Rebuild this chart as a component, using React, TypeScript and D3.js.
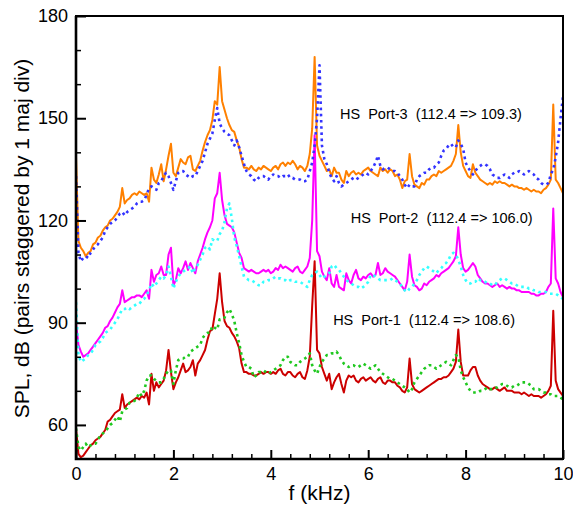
import React, { useEffect, useRef } from 'react';
import * as d3 from 'd3';

// spectra sampled every 0.05 kHz, 0 .. 10 kHz
const FREQ_STEP = 0.05;

const port3Solid = [
  139, 114, 112, 111, 109.5, 110.5, 111, 113, 113.5, 115, 115.5, 117, 118, 118.5, 120, 120.5, 121.5, 122.5, 124, 129.5,
  125, 126, 126.5, 127.5, 128, 127.5, 128.5, 128, 127.5, 128, 125.5, 135.5, 132, 131, 133.5, 136.5, 131.5, 135, 139, 142.5,
  134, 133, 135.5, 138, 137, 136.5, 138.5, 139, 135, 134.5, 136, 137.5, 140.5, 143, 145, 146.5, 149.5, 155, 154, 165,
  155, 152.5, 150, 148, 146.5, 146, 143.5, 141.5, 138, 135.5, 135.5, 135, 136, 135, 134.5, 135.5, 135, 136, 135.5, 135,
  134.5, 135.5, 136, 135, 136.5, 137, 136, 137, 136.5, 137.5, 136.5, 135, 136, 135.5, 134.5, 136, 139.5, 147, 168, 142,
  139, 137.5, 136, 134.5, 135, 133, 135.5, 134, 134, 132, 131, 134.5, 133, 134, 134.5, 133.5, 134, 133.5, 134.5, 135,
  135.5, 134.5, 134, 133.5, 133, 135.5, 134.5, 135, 134, 135, 134.5, 133, 133.5, 132, 129.5, 131.5, 132, 139.5, 133, 130.5,
  130, 129.5, 131, 130.5, 132, 132, 133, 133.5, 133, 134.5, 134, 134.5, 135, 135.5, 136, 137.5, 139.5, 148, 140, 136,
  134.5, 133, 132.5, 136.5, 134, 133, 132, 131.5, 131, 130.5, 131, 130.5, 131.5, 131, 131.5, 131, 131, 130.5, 130, 130.5,
  130, 130, 129.5, 129.5, 129, 129.5, 129, 128.5, 129, 128.5, 128.5, 128, 129, 129.5, 130.5, 132, 154, 132, 131, 129.5,
  128,
];

const port3Dotted = [
  133, 110.5, 108, 109, 109.5, 109, 110.5, 111.5, 112.5, 113, 114, 115, 117, 118, 119, 119.5, 120, 121, 122, 122.5,
  121.5, 122.5, 123, 123.5, 124, 125, 125.5, 125.5, 126, 127.5, 129.5, 130, 129.5, 129, 131, 131.5, 133, 134, 133, 131,
  129, 131.5, 134, 134.5, 134.5, 133.5, 133, 132.5, 133, 133, 134.5, 136, 137.5, 140, 142.5, 144, 145.5, 149.5, 153, 148.5,
  147, 146, 145.5, 145, 143.5, 142, 143.5, 141.5, 139, 136.5, 134.5, 133.5, 133, 132, 131.5, 132.5, 133, 133, 132.5, 132,
  133, 133.5, 133, 133, 132.5, 133, 133, 133.5, 132.5, 132.5, 132, 132, 132, 131.5, 131.5, 132, 134.5, 137, 142, 150,
  165.5, 142, 138, 136.5, 134, 132.5, 131.5, 133, 131, 130, 130.5, 131, 131.5, 132, 132.5, 132, 132.5, 133, 133.5, 134,
  133.5, 134.5, 135.5, 137, 139, 136, 135, 135.5, 135.5, 135, 134.5, 134.5, 134, 133, 132, 130.5, 129.5, 130.5, 130, 130,
  132, 133, 133.5, 134, 134, 135, 135.5, 135.5, 136.5, 137, 139, 140.5, 141, 142, 142.5, 141.5, 141.5, 143.5, 142.5, 141,
  137, 135.5, 134.5, 133.5, 134.5, 135.5, 136, 136.5, 136.5, 136, 135, 133.5, 133, 132.5, 132.5, 133, 133.5, 133, 132.5, 133.5,
  134, 134, 134.5, 134, 133.5, 134, 134.5, 134, 133.5, 132.5, 132, 131, 130.5, 130.5, 131, 133.5, 135, 138.5, 143, 150,
  156.5,
];

const port2Solid = [
  90, 83.5, 81.5, 80, 80.5, 81, 82, 83, 84, 85, 86, 87, 88.5, 89, 90.5, 91.5, 93, 94.5, 95.5, 99.5,
  96, 96.5, 97, 97.5, 97.5, 98, 98, 97.5, 98.5, 99.5, 97, 105.5, 102, 104, 104.5, 106.5, 104, 104, 110, 112,
  101, 102.5, 106, 104.5, 106, 108, 105.5, 107.5, 106, 104.5, 108, 110, 112, 114.5, 116.5, 118, 120, 126.5, 128, 134,
  126, 121.5, 119, 118.5, 118, 116.5, 113.5, 110.5, 109, 106, 105.5, 105, 105.5, 105, 104.5, 104.5, 105, 105.5, 105, 105.5,
  104.5, 105, 106, 105.5, 107, 106, 106.5, 106, 105.5, 105, 106, 106.5, 105, 104.5, 105.5, 106.5, 109, 120, 145, 111,
  109.5, 105, 103.5, 102.5, 106, 101.5, 100.5, 104, 100.5, 100, 99.5, 104.5, 102.5, 101.5, 104, 105.5, 103, 102.5, 103.5, 103,
  104, 104.5, 103.5, 104, 107.5, 104, 104.5, 106, 105, 104.5, 104, 103.5, 102.5, 101.5, 100.5, 99.5, 102, 110, 103.5, 101,
  100.5, 99.5, 100, 101.5, 101, 102, 102.5, 103, 104, 103.5, 104.5, 105, 105.5, 106, 107, 108, 109.5, 118, 110, 106,
  105, 105.5, 106.5, 107.5, 106.5, 104, 103, 102, 101.5, 101.5, 101, 100.5, 101, 101.5, 100.5, 101, 100.5, 100, 100.5, 100,
  100, 99.5, 99.5, 99, 99, 99, 99, 98.5, 98.5, 98, 98, 98.5, 98.5, 99, 100.5, 101.5, 123.5, 103, 101.5, 99,
  97.5,
];

const port2Dotted = [
  96, 80.5, 78.5, 79, 79.5, 80.5, 81, 82, 83.5, 84, 84.5, 85.5, 87, 87.5, 88, 89, 90, 91, 92.5, 94,
  94, 94.5, 94, 94.5, 95, 95.5, 95.5, 96.5, 97, 98, 99.5, 101.5, 100.5, 101.5, 102.5, 103.5, 103, 104, 106.5, 103.5,
  100, 102, 103.5, 104.5, 105, 105.5, 106, 106.5, 104.5, 106, 107, 108.5, 110, 112, 112.5, 111.5, 114.5, 114, 114, 116,
  117, 119.5, 123.5, 125, 120.5, 115, 112.5, 109.5, 106.5, 103.5, 103, 102.5, 102.5, 102, 101.5, 101, 101, 102, 102, 102.5,
  102.5, 103, 103.5, 103, 103, 102.5, 102.5, 102, 102.5, 102.5, 102, 102, 102, 101.5, 101, 100.5, 102.5, 104, 104.5, 105,
  104, 103, 103.5, 104, 104.5, 106.5, 107, 106, 105.5, 104.5, 103.5, 102.5, 102, 101.5, 101, 100.5, 100.5, 100, 100.5, 101,
  102, 104, 104, 103.5, 103, 102.5, 102.5, 102.5, 102.5, 102.5, 103, 102.5, 102, 101.5, 100.5, 99.5, 99, 100, 100.5, 101.5,
  102.5, 104, 105, 106, 106.5, 106, 105.5, 105, 104.5, 105.5, 106, 107, 107.5, 108.5, 110, 110.5, 110, 108.5, 106.5, 104,
  102.5, 101.5, 101.5, 102, 102, 103, 102.5, 102.5, 102, 101.5, 101.5, 101, 101, 102, 102.5, 103, 103, 102.5, 102, 101.5,
  101.5, 101, 100.5, 100.5, 100.5, 100.5, 100, 100, 99.5, 99.5, 99, 99, 99, 99, 98.5, 98.5, 98.5, 98.5, 98, 97.5,
  97,
];

const port1Solid = [
  59, 51.5, 50.5, 51, 52, 53, 54, 54.5, 55.5, 56, 56.5, 57.5, 58.5, 61, 61.5, 62.5, 63.5, 64, 64.5, 69,
  65, 66, 66.5, 67, 67.5, 68, 67.5, 68.5, 68, 69.5, 66, 75, 70, 72.5, 71, 72, 73, 76, 82, 75.5,
  70.5, 72.5, 74, 76, 78, 75.5, 76, 77, 79, 74.5, 78, 79, 80.5, 82, 85, 87.5, 88, 92.5, 97, 104.5,
  96, 90.5, 89, 88.5, 87, 86, 84.5, 82.5, 78, 75.5, 75.5, 75, 75, 74.5, 74.5, 75, 75.5, 75, 75.5, 75.5,
  75, 75.5, 75, 76, 76.5, 75, 74.5, 75.5, 75.5, 74.5, 74, 75, 75.5, 74, 73.5, 76, 80, 95, 108, 82,
  81, 77, 75, 73, 75, 70.5, 72.5, 74, 75, 72, 69.5, 73, 74.5, 74, 74.5, 73, 72.5, 73.5, 74, 73,
  73.5, 74, 73, 72.5, 73.5, 74, 72.5, 72, 73, 73, 72.5, 72.5, 71.5, 71, 70, 69.5, 71, 79.5, 72, 70.5,
  70, 69.5, 70, 70.5, 71, 71.5, 72, 72.5, 73, 73.5, 73.5, 74, 74, 74.5, 75.5, 76.5, 78.5, 88, 78.5, 74.5,
  74.5, 74.5, 76, 77, 77, 74.5, 73, 72, 71.5, 71, 70.5, 70.5, 71, 70.5, 70, 70.5, 71, 70, 70, 70,
  69.5, 69.5, 69.5, 69, 69.5, 69, 68.5, 69, 68.5, 68.5, 68.5, 68, 68.5, 69, 70, 71.5, 93.5, 73, 70.5, 69.5,
  68.5,
];

const port1Dotted = [
  59, 53.5, 52.5, 53.5, 54.5, 53.5, 54, 54.5, 54.5, 55.5, 57, 57.5, 58, 59, 60, 60.5, 61.5, 62.5, 61, 64,
  64.5, 65, 66.5, 67, 67, 68, 69.5, 68.5, 70, 73, 74.5, 74.5, 73.5, 73, 72.5, 72.5, 73.5, 75, 76, 76,
  72, 76, 79, 79.5, 79.5, 80, 80, 81.5, 82, 82.5, 83, 83.5, 85.5, 86.5, 87, 87, 89, 88.5, 88, 91,
  91, 91.5, 93, 94, 92.5, 90.5, 87, 84, 80.5, 78.5, 77, 77, 76.5, 74, 74.5, 75.5, 75.5, 76, 75.5, 75,
  75.5, 76, 76.5, 77, 77.5, 79, 80, 80, 78.5, 78, 77.5, 77.5, 78.5, 79, 79.5, 80, 81, 77.5, 76, 75,
  77, 78.5, 79.5, 80.5, 80.5, 81, 81, 81.5, 80.5, 79, 78, 77.5, 77, 77.5, 77.5, 77, 77, 77.5, 78, 77.5,
  77, 76.5, 77, 77.5, 76.5, 75.5, 75, 74.5, 74, 73.5, 73.5, 73, 72.5, 72, 71.5, 71, 70.5, 69.5, 70.5, 72.5,
  73.5, 74.5, 75.5, 76.5, 77, 77.5, 77.5, 77, 76.5, 77, 77.5, 78, 78.5, 78, 77.5, 79, 80.5, 80, 76, 74,
  72.5, 71, 70, 69.5, 69.5, 69.5, 70, 70, 70.5, 71, 70.5, 70.5, 71, 71, 71.5, 72, 72, 71.5, 71, 71,
  71.5, 71.5, 72, 72.5, 72.5, 72.5, 72, 71.5, 70.5, 70.5, 70.5, 70, 69.5, 69.5, 69, 69, 68.5, 68.5, 68.5, 68,
  67.5,
];

const yMajorTicks = [60, 90, 120, 150, 180];
const yMinorTicks = [70, 80, 100, 110, 130, 140, 160, 170];
const xMajorTicks = [0, 2, 4, 6, 8, 10];
const xMinorTicks = [0.4, 0.8, 1.2, 1.6, 2.4, 2.8, 3.2, 3.6, 4.4, 4.8, 5.2, 5.6, 6.4, 6.8, 7.2, 7.6, 8.4, 8.8, 9.2, 9.6];

const labels = [
  'HS  Port-3  (112.4 => 109.3)',
  'HS  Port-2  (112.4 => 106.0)',
  'HS  Port-1  (112.4 => 108.6)',
];

const FONT = '"Liberation Sans", Arial, Helvetica, sans-serif';

export default function App() {
  const ref = useRef<SVGSVGElement>(null);

  useEffect(() => {
    const width = 573;
    const height = 508;
    const margin = { top: 16, right: 10, bottom: 49, left: 76 };

    const x = d3.scaleLinear().domain([0, 10]).range([margin.left, width - margin.right]);
    const y = d3.scaleLinear().domain([50, 180]).range([height - margin.bottom, margin.top]);

    const svg = d3.select(ref.current);
    svg.selectAll('*').remove();

    svg
      .append('defs')
      .append('clipPath')
      .attr('id', 'plot-clip')
      .append('rect')
      .attr('x', x(0))
      .attr('y', y(180))
      .attr('width', x(10) - x(0))
      .attr('height', y(50) - y(180));

    const line = d3
      .line<number>()
      .x((d, i) => x(i * FREQ_STEP))
      .y((d) => y(d));

    const series = [
      { data: port1Solid, color: '#cc0000', dotted: false },
      { data: port1Dotted, color: '#1fc81f', dotted: true },
      { data: port2Solid, color: '#ff00ff', dotted: false },
      { data: port2Dotted, color: '#33ffff', dotted: true },
      { data: port3Solid, color: '#ff8000', dotted: false },
      { data: port3Dotted, color: '#3333ff', dotted: true },
    ];

    const plot = svg.append('g').attr('clip-path', 'url(#plot-clip)');
    series.forEach((s) => {
      plot
        .append('path')
        .datum(s.data)
        .attr('fill', 'none')
        .attr('stroke', s.color)
        .attr('stroke-width', s.dotted ? 2.6 : 2)
        .attr('stroke-dasharray', s.dotted ? '2.6 3.6' : null)
        .attr('stroke-linejoin', 'round')
        .attr('d', line);
    });

    // ticks point into the plot
    const yMajor = (g) =>
      g
        .attr('transform', `translate(${margin.left},0)`)
        .call(d3.axisLeft(y).tickValues(yMajorTicks).tickSizeInner(-10).tickSizeOuter(0).tickPadding(8))
        .call((g) => g.select('.domain').remove())
        .call((g) => g.selectAll('.tick line').attr('stroke-width', 2))
        .call((g) => g.selectAll('.tick text').attr('font-size', 18).attr('font-family', FONT).attr('fill', '#000'));

    const yMinor = (g) =>
      g
        .attr('transform', `translate(${margin.left},0)`)
        .call(d3.axisLeft(y).tickValues(yMinorTicks).tickSizeInner(-5).tickSizeOuter(0).tickFormat(() => ''))
        .call((g) => g.select('.domain').remove())
        .call((g) => g.selectAll('.tick line').attr('stroke-width', 1.5));

    const xMajor = (g) =>
      g
        .attr('transform', `translate(0,${height - margin.bottom})`)
        .call(d3.axisBottom(x).tickValues(xMajorTicks).tickSizeInner(-9).tickSizeOuter(0).tickPadding(8))
        .call((g) => g.select('.domain').remove())
        .call((g) => g.selectAll('.tick line').attr('stroke-width', 2))
        .call((g) => g.selectAll('.tick text').attr('font-size', 18).attr('font-family', FONT).attr('fill', '#000'));

    const xMinor = (g) =>
      g
        .attr('transform', `translate(0,${height - margin.bottom})`)
        .call(d3.axisBottom(x).tickValues(xMinorTicks).tickSizeInner(-5).tickSizeOuter(0).tickFormat(() => ''))
        .call((g) => g.select('.domain').remove())
        .call((g) => g.selectAll('.tick line').attr('stroke-width', 1.5));

    svg.append('g').call(yMinor);
    svg.append('g').call(yMajor);
    svg.append('g').call(xMinor);
    svg.append('g').call(xMajor);

    // frame
    svg
      .append('rect')
      .attr('x', x(0))
      .attr('y', y(180))
      .attr('width', x(10) - x(0))
      .attr('height', y(50) - y(180))
      .attr('fill', 'none')
      .attr('stroke', '#000')
      .attr('stroke-width', 2);
    svg
      .append('path')
      .attr('d', `M${x(0)},${y(180)}V${y(50)}H${x(10)}`)
      .attr('fill', 'none')
      .attr('stroke', '#000')
      .attr('stroke-width', 2.6);

    // pair labels
    const labelPos = [
      [5.42, 149.8],
      [5.64, 119.3],
      [5.28, 89.2],
    ];
    labels.forEach((t, i) => {
      svg
        .append('text')
        .attr('x', x(labelPos[i][0]))
        .attr('y', y(labelPos[i][1]))
        .attr('font-family', FONT)
        .attr('font-size', 14.5)
        .style('white-space', 'pre')
        .attr('fill', '#000')
        .text(t);
    });

    svg
      .append('text')
      .attr('x', (x(0) + x(10)) / 2)
      .attr('y', 500)
      .attr('text-anchor', 'middle')
      .attr('font-family', FONT)
      .attr('font-size', 21)
      .text('f (kHz)');

    svg
      .append('text')
      .attr('transform', `translate(29,${(y(180) + y(50)) / 2 + 1}) rotate(-90)`)
      .attr('text-anchor', 'middle')
      .attr('font-family', FONT)
      .attr('font-size', 21)
      .text('SPL, dB (pairs staggered by 1 maj div)');
  }, []);

  return (
    <svg
      ref={ref}
      width={573}
      height={508}
      style={{ position: 'absolute', left: 0, top: 0, background: '#fff' }}
    />
  );
}
